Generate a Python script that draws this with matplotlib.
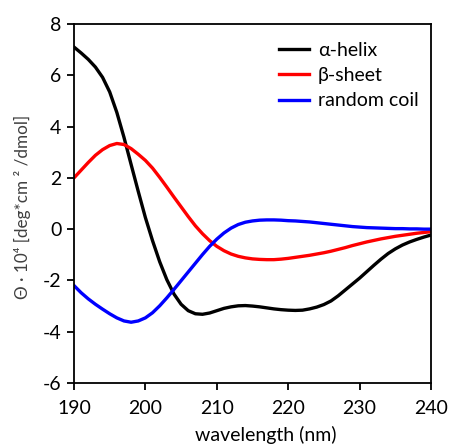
import matplotlib
matplotlib.use("Agg")
import matplotlib.pyplot as plt

plt.rcParams['font.family'] = ['Lato', 'DejaVu Sans']
plt.rcParams['axes.unicode_minus'] = False

wavelength = list(range(190, 241))

alpha_helix = [7.10, 6.87, 6.62, 6.32, 5.92, 5.35, 4.55, 3.58, 2.52, 1.47,
               0.45, -0.45, -1.27, -1.97, -2.53, -2.93, -3.18, -3.30, -3.32, -3.27,
               -3.18, -3.09, -3.03, -2.99, -2.98, -3.00, -3.03, -3.07, -3.11, -3.14,
               -3.16, -3.17, -3.16, -3.11, -3.04, -2.94, -2.80, -2.60, -2.37, -2.14,
               -1.91, -1.66, -1.41, -1.17, -0.95, -0.77, -0.62, -0.50, -0.40, -0.31,
               -0.23]

beta_sheet = [2.00, 2.30, 2.60, 2.88, 3.10, 3.26, 3.34, 3.30, 3.14, 2.92,
              2.68, 2.38, 2.02, 1.64, 1.25, 0.87, 0.49, 0.13, -0.18, -0.45,
              -0.67, -0.84, -0.97, -1.06, -1.12, -1.16, -1.18, -1.19, -1.19, -1.17,
              -1.14, -1.10, -1.06, -1.02, -0.97, -0.92, -0.86, -0.79, -0.72, -0.64,
              -0.57, -0.50, -0.44, -0.38, -0.33, -0.28, -0.24, -0.20, -0.16, -0.13,
              -0.10]

random_coil = [-2.20, -2.48, -2.72, -2.93, -3.12, -3.30, -3.46, -3.58, -3.63, -3.58,
               -3.46, -3.26, -2.99, -2.68, -2.35, -2.01, -1.67, -1.33, -0.99, -0.67,
               -0.39, -0.15, 0.04, 0.18, 0.27, 0.32, 0.35, 0.36, 0.36, 0.35,
               0.33, 0.32, 0.30, 0.28, 0.25, 0.22, 0.19, 0.16, 0.13, 0.10,
               0.08, 0.06, 0.05, 0.04, 0.03, 0.02, 0.02, 0.01, 0.01, 0.0,
               0.0]

series_labels = ['α-helix', 'β-sheet', 'random coil']
xticks = [190, 200, 210, 220, 230, 240]
yticks = [-6, -4, -2, 0, 2, 4, 6, 8]

fig = plt.figure(figsize=(4.52, 4.45), dpi=100)
ax = fig.add_axes([74/452, 1-383/445, (431-74)/452, (383-24)/445])

ax.plot(wavelength, alpha_helix, color='black', lw=2.4, label=series_labels[0])
ax.plot(wavelength, beta_sheet, color='#ff0000', lw=2.4, label=series_labels[1])
ax.plot(wavelength, random_coil, color='#0000ff', lw=2.4, label=series_labels[2])

ax.set_xlim(190, 240)
ax.set_ylim(-6, 8)
ax.set_xticks(xticks)
ax.set_yticks(yticks)
ax.tick_params(direction='out', length=5, width=1.3, labelsize=14,
               top=False, right=False)
ax.tick_params(axis='x', pad=7)
ax.tick_params(axis='y', pad=4)
for s in ax.spines.values():
    s.set_linewidth(1.3)

fig.text(22.5/452, 1-206.5/445, 'Θ · 10⁴ [deg*cm ² /dmol]', rotation=90,
         ha='center', va='center', fontsize=12.3, color='#404040')
fig.text(265.5/452, 1-435/445, 'wavelength (nm)', ha='center', va='center',
         fontsize=14)

leg = ax.legend(loc='upper left', frameon=False, fontsize=14,
                handlelength=1.55, handletextpad=0.45, labelspacing=0.42,
                borderpad=0, borderaxespad=0,
                bbox_to_anchor=((279-74)/357, (383-42)/359))

fig.savefig('out.png', dpi=100)
